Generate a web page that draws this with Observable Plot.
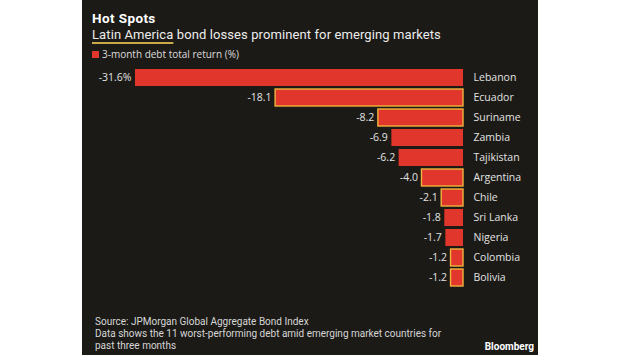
<!DOCTYPE html>
<html>
<head>
<meta charset="utf-8">
<script src="https://cdn.jsdelivr.net/npm/d3@7"></script>
<script src="https://cdn.jsdelivr.net/npm/@observablehq/plot@0.6"></script>
<style>
  html, body { margin: 0; padding: 0; background: #ffffff; }
  #panel { position: absolute; left: 82px; top: 0; width: 456px; height: 355px; background: #1c1a16; overflow: hidden;
    font-family: "Open Sans", "DejaVu Sans", sans-serif; color: #e4e4e4; }
  .abs { position: absolute; white-space: nowrap; line-height: 1; }
  #title { left: 10px; top: 12px; font-family: Roboto, sans-serif; font-size: 13.5px; font-weight: 700; color: #ffffff; letter-spacing: 0.4px; }
  #subtitle { left: 10px; top: 27.9px; font-family: Roboto, sans-serif; font-size: 13px; color: #ececec; letter-spacing: 0.1px; }
  #subtitle u { text-decoration: underline; text-decoration-color: #c9a94a; text-decoration-thickness: 1.5px; text-underline-offset: 3px; }
  #legend { left: 10px; top: 49px; font-size: 10px; color: #dcdcdc; }
  #legend span.sw { display: inline-block; width: 7px; height: 7px; background: #e0362b; margin-right: 3px; }
  #chart { position: absolute; left: 0; top: 65px; }
  .foot { left: 13px; font-family: Roboto, sans-serif; font-size: 10px; color: #d6d6d6; }
  #brand { right: 4px; top: 342px; font-family: Roboto, sans-serif; font-size: 10px; font-weight: 700; color: #ffffff; }
</style>
</head>
<body>
<div id="panel">
  <div id="title" class="abs">Hot Spots</div>
  <div id="subtitle" class="abs"><u>Latin America</u> bond losses prominent for emerging markets</div>
  <div id="legend" class="abs"><span class="sw"></span>3-month debt total return (%)</div>
  <div id="chart"></div>
  <div class="abs foot" style="top:316.6px">Source: JPMorgan Global Aggregate Bond Index</div>
  <div class="abs foot" style="top:328.6px">Data shows the 11 worst-performing debt amid emerging market countries for</div>
  <div class="abs foot" style="top:340.6px">past three months</div>
  <div id="brand" class="abs">Bloomberg</div>
</div>
<script>
const countries = ["Lebanon", "Ecuador", "Suriname", "Zambia", "Tajikistan", "Argentina", "Chile", "Sri Lanka", "Nigeria", "Colombia", "Bolivia"];
const returns = [-31.6, -18.1, -8.2, -6.9, -6.2, -4.0, -2.1, -1.8, -1.7, -1.2, -1.2];
const valueLabels = ["-31.6%", "-18.1", "-8.2", "-6.9", "-6.2", "-4.0", "-2.1", "-1.8", "-1.7", "-1.2", "-1.2"];
const latinAmerica = ["Ecuador", "Suriname", "Argentina", "Chile", "Colombia", "Bolivia"];

const data = countries.map((c, i) => ({
  country: c,
  value: returns[i],
  label: valueLabels[i],
  latam: latinAmerica.includes(c)
}));

const plot = Plot.plot({
  width: 456,
  height: 224,
  marginLeft: 53,
  marginRight: 75,
  marginTop: 0,
  marginBottom: 0,
  style: { background: "transparent", color: "#e4e4e4", fontFamily: "'Open Sans', 'DejaVu Sans', sans-serif", fontSize: "10.5px" },
  x: { domain: [-31.6, 0], axis: null },
  y: { domain: countries, axis: null, padding: 0.17 },
  marks: [
    Plot.barX(data, {
      x1: "value", x2: 0, y: "country",
      fill: "#e0362b",
      stroke: d => d.latam ? "#f2b33d" : "none",
      strokeWidth: 1.4
    }),
    Plot.text(data, {
      x: "value", y: "country", text: "label",
      textAnchor: "end", dx: -4, fill: "#e2e2e2", fontSize: 10.5
    }),
    Plot.text(data, {
      x: 0, y: "country", text: "country",
      textAnchor: "start", dx: 10, fill: "#e2e2e2", fontSize: 10.5
    })
  ]
});
document.getElementById("chart").appendChild(plot);
</script>
</body>
</html>
